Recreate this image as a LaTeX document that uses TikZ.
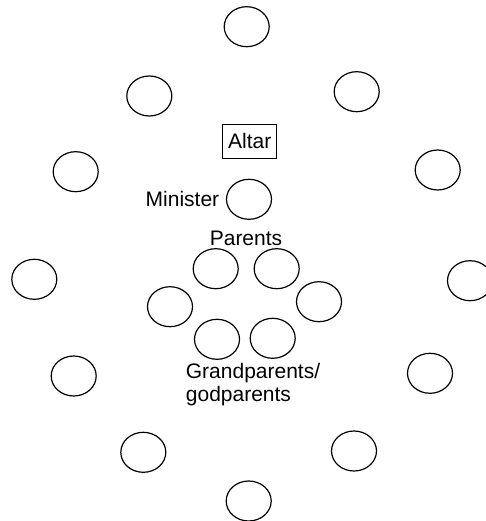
\documentclass[tikz,border=0pt]{standalone}
\usepackage{fontspec}
\setmainfont{Liberation Sans}
\usetikzlibrary{shapes.geometric,positioning}
\tikzset{
  seat/.style={draw,ellipse,line width=1.2pt,minimum width=45pt,minimum height=40pt,inner sep=0pt},
  lbl/.style={inner sep=0pt,font=\fontsize{21}{23.5}\selectfont},
}
\begin{document}
\begin{tikzpicture}[x=1pt,y=-1pt]
	\useasboundingbox (0,0) rectangle (486,521);
	% outer ring of seats
	\foreach \n/\x/\y in {a/246.7/26.7,b/356.7/91.7,c/437.7/170,d/470/280.7,e/430/373.3,f/354/451,
		g/248.7/501,h/143.3/452.3,i/73.7/376,j/34.3/279.3,k/75.7/171.7,l/149.3/96}
		\node[seat] (out-\n) at (\x,\y) {};
	% altar and minister
	\node[lbl,draw,line width=0.8pt,inner xsep=5.5pt,inner ysep=9.5pt] (altar) at (249.7,141.3) {Altar};
	\node[seat] (minister) at (249,199.3) {};
	\node[lbl,left=6.5pt of minister] (minister-lbl) {Minister};
	% family round the font
	\node[lbl] (parents-lbl) at (246,238) {Parents};
	\node[seat] (par-1) at (215.7,268.7) {};
	\node[seat] (par-2) at (276.7,268.7) {};
	\node[seat] (fam-1) at (170,306.7) {};
	\node[seat] (fam-2) at (319,301.7) {};
	\node[seat] (gp-1) at (217,339.3) {};
	\node[seat] (gp-2) at (272.7,338.3) {};
	\node[lbl,align=left,anchor=north west] (gp-lbl) at (185.7,363) {Grandparents/\\godparents};
\end{tikzpicture}
\end{document}
